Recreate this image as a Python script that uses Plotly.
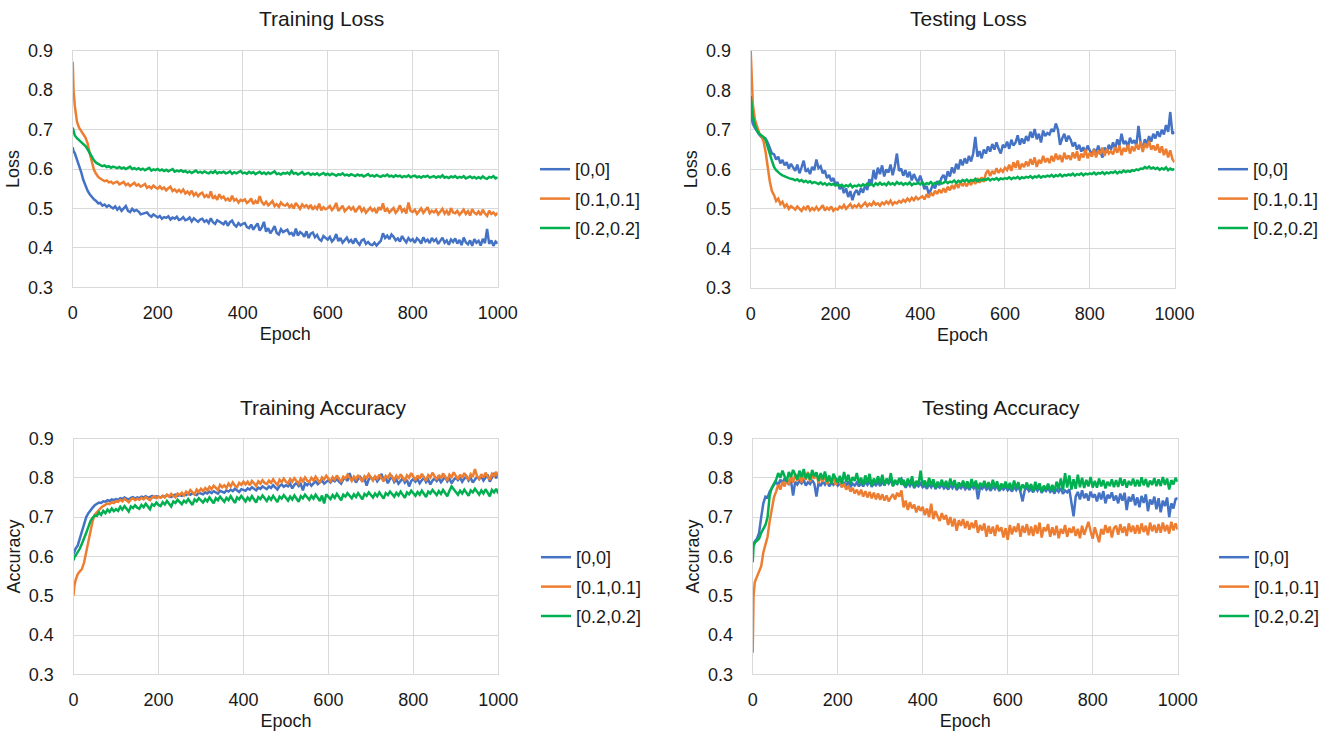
import plotly.graph_objects as go

EPOCHS = [0, 2] + list(range(5, 1001, 5))
SERIES_NAMES = ["[0,0]", "[0.1,0.1]", "[0.2,0.2]"]
COLORS = ["#4472C4", "#ED7D31", "#00B050"]
TITLES = ["Training Loss", "Testing Loss", "Training Accuracy", "Testing Accuracy"]
Y_TITLES = ["Loss", "Loss", "Accuracy", "Accuracy"]
X_TITLE = "Epoch"

# ---- Training loss (epochs 0, 2, then blocks of 5..50, 55..100, ...) ----
train_loss_00 = [0.655, 0.645,
    0.640, 0.625, 0.610, 0.592, 0.572, 0.556, 0.545, 0.536, 0.529, 0.523,
    0.519, 0.513, 0.514, 0.507, 0.510, 0.504, 0.508, 0.503, 0.500, 0.505,
    0.497, 0.503, 0.494, 0.500, 0.506, 0.494, 0.491, 0.499, 0.493, 0.496,
    0.492, 0.485, 0.487, 0.489, 0.490, 0.483, 0.479, 0.485, 0.481, 0.477,
    0.481, 0.474, 0.478, 0.476, 0.480, 0.472, 0.477, 0.474, 0.479, 0.471,
    0.473, 0.478, 0.470, 0.472, 0.477, 0.467, 0.475, 0.470, 0.466, 0.472,
    0.474, 0.466, 0.470, 0.463, 0.475, 0.465, 0.461, 0.470, 0.467, 0.463,
    0.460, 0.468, 0.456, 0.465, 0.469, 0.459, 0.454, 0.463, 0.457, 0.461,
    0.463, 0.453, 0.450, 0.459, 0.446, 0.455, 0.462, 0.444, 0.452, 0.466,
    0.441, 0.450, 0.437, 0.445, 0.455, 0.438, 0.434, 0.447, 0.440, 0.443,
    0.446, 0.435, 0.438, 0.430, 0.449, 0.431, 0.440, 0.436, 0.428, 0.442,
    0.425, 0.436, 0.439, 0.427, 0.433, 0.422, 0.418, 0.430, 0.426, 0.421,
    0.428, 0.416, 0.422, 0.435, 0.417, 0.425, 0.413, 0.421, 0.426, 0.415,
    0.420, 0.411, 0.424, 0.414, 0.408, 0.419, 0.422, 0.410, 0.415, 0.409,
    0.407, 0.413, 0.406, 0.412, 0.418, 0.437, 0.425, 0.431, 0.422, 0.434,
    0.428, 0.419, 0.424, 0.416, 0.430, 0.421, 0.414, 0.425, 0.418, 0.422,
    0.413, 0.424, 0.419, 0.411, 0.427, 0.416, 0.421, 0.412, 0.425, 0.417,
    0.422, 0.410, 0.418, 0.426, 0.413, 0.419, 0.408, 0.421, 0.415, 0.424,
    0.411, 0.420, 0.407, 0.426, 0.414, 0.409, 0.419, 0.405, 0.422, 0.413,
    0.418, 0.406, 0.423, 0.412, 0.448, 0.410, 0.419, 0.405, 0.416, 0.411]
train_loss_01 = [0.872, 0.800,
    0.760, 0.720, 0.705, 0.695, 0.688, 0.680, 0.665, 0.640, 0.615, 0.598,
    0.588, 0.580, 0.576, 0.573, 0.569, 0.571, 0.566, 0.568, 0.563, 0.566,
    0.568, 0.561, 0.564, 0.567, 0.559, 0.563, 0.557, 0.562, 0.565, 0.558,
    0.561, 0.555, 0.558, 0.562, 0.552, 0.556, 0.551, 0.558, 0.553, 0.550,
    0.556, 0.549, 0.553, 0.546, 0.551, 0.555, 0.544, 0.548, 0.542, 0.547,
    0.541, 0.548, 0.538, 0.543, 0.536, 0.545, 0.533, 0.539, 0.531, 0.537,
    0.540, 0.529, 0.534, 0.527, 0.543, 0.525, 0.531, 0.522, 0.536, 0.526,
    0.530, 0.521, 0.525, 0.518, 0.532, 0.520, 0.524, 0.515, 0.522, 0.519,
    0.523, 0.514, 0.518, 0.525, 0.511, 0.519, 0.513, 0.531, 0.516, 0.510,
    0.517, 0.508, 0.513, 0.519, 0.506, 0.511, 0.504, 0.515, 0.509, 0.507,
    0.512, 0.503, 0.509, 0.500, 0.514, 0.506, 0.499, 0.510, 0.504, 0.508,
    0.501, 0.509, 0.497, 0.505, 0.499, 0.512, 0.495, 0.503, 0.498, 0.501,
    0.506, 0.496, 0.502, 0.514, 0.494, 0.500, 0.507, 0.493, 0.499, 0.504,
    0.497, 0.503, 0.491, 0.499, 0.506, 0.493, 0.500, 0.489, 0.497, 0.502,
    0.494, 0.499, 0.488, 0.503, 0.496, 0.513, 0.492, 0.499, 0.490, 0.497,
    0.501, 0.489, 0.496, 0.508, 0.492, 0.498, 0.487, 0.515, 0.494, 0.491,
    0.497, 0.486, 0.493, 0.500, 0.489, 0.495, 0.503, 0.488, 0.494, 0.490,
    0.496, 0.485, 0.491, 0.499, 0.487, 0.494, 0.483, 0.501, 0.490, 0.488,
    0.494, 0.484, 0.490, 0.497, 0.486, 0.493, 0.482, 0.498, 0.489, 0.485,
    0.492, 0.483, 0.497, 0.487, 0.481, 0.494, 0.486, 0.490, 0.483, 0.489]
train_loss_02 = [0.705, 0.695,
    0.685, 0.678, 0.673, 0.668, 0.664, 0.658, 0.650, 0.640, 0.630, 0.622,
    0.616, 0.612, 0.610, 0.607, 0.609, 0.605, 0.607, 0.603, 0.606, 0.604,
    0.602, 0.605, 0.601, 0.604, 0.600, 0.603, 0.606, 0.600, 0.602, 0.599,
    0.602, 0.598, 0.601, 0.597, 0.600, 0.603, 0.596, 0.599, 0.597, 0.600,
    0.596, 0.599, 0.595, 0.598, 0.594, 0.597, 0.600, 0.593, 0.596, 0.594,
    0.597, 0.593, 0.595, 0.591, 0.594, 0.590, 0.593, 0.596, 0.591, 0.593,
    0.590, 0.594, 0.591, 0.589, 0.593, 0.590, 0.595, 0.589, 0.592, 0.590,
    0.593, 0.589, 0.591, 0.594, 0.588, 0.592, 0.589, 0.591, 0.595, 0.589,
    0.591, 0.588, 0.593, 0.589, 0.592, 0.587, 0.590, 0.593, 0.588, 0.591,
    0.587, 0.591, 0.588, 0.590, 0.594, 0.587, 0.589, 0.586, 0.590, 0.588,
    0.591, 0.587, 0.595, 0.588, 0.590, 0.586, 0.589, 0.592, 0.586, 0.588,
    0.590, 0.585, 0.588, 0.586, 0.589, 0.584, 0.587, 0.590, 0.585, 0.588,
    0.584, 0.588, 0.586, 0.583, 0.587, 0.585, 0.589, 0.584, 0.586, 0.583,
    0.587, 0.584, 0.582, 0.586, 0.583, 0.585, 0.581, 0.584, 0.587, 0.582,
    0.584, 0.581, 0.585, 0.582, 0.580, 0.584, 0.582, 0.586, 0.581, 0.583,
    0.580, 0.584, 0.581, 0.583, 0.579, 0.582, 0.580, 0.584, 0.579, 0.582,
    0.583, 0.579, 0.581, 0.578, 0.582, 0.580, 0.583, 0.578, 0.580, 0.582,
    0.578, 0.581, 0.579, 0.584, 0.578, 0.580, 0.577, 0.581, 0.579, 0.582,
    0.577, 0.580, 0.578, 0.582, 0.576, 0.579, 0.581, 0.577, 0.580, 0.576,
    0.579, 0.576, 0.581, 0.577, 0.575, 0.580, 0.578, 0.582, 0.576, 0.579]

# ---- Testing loss ----
test_loss_00 = [0.745, 0.730,
    0.715, 0.705, 0.695, 0.688, 0.682, 0.680, 0.678, 0.668, 0.652, 0.640,
    0.638, 0.625, 0.632, 0.615, 0.624, 0.610, 0.618, 0.602, 0.614, 0.606,
    0.596, 0.612, 0.590, 0.605, 0.622, 0.594, 0.600, 0.588, 0.606, 0.598,
    0.625, 0.603, 0.608, 0.590, 0.597, 0.578, 0.586, 0.570, 0.578, 0.562,
    0.568, 0.550, 0.558, 0.540, 0.552, 0.530, 0.545, 0.522, 0.540, 0.548,
    0.535, 0.552, 0.541, 0.560, 0.548, 0.575, 0.562, 0.598, 0.575, 0.604,
    0.588, 0.610, 0.582, 0.600, 0.592, 0.612, 0.585, 0.608, 0.640, 0.596,
    0.602, 0.584, 0.598, 0.580, 0.594, 0.572, 0.588, 0.576, 0.568, 0.584,
    0.565, 0.550, 0.558, 0.538, 0.548, 0.562, 0.552, 0.570, 0.560, 0.578,
    0.586, 0.572, 0.595, 0.582, 0.605, 0.590, 0.614, 0.600, 0.625, 0.610,
    0.628, 0.615, 0.634, 0.620, 0.640, 0.682, 0.632, 0.646, 0.628, 0.650,
    0.640, 0.658, 0.645, 0.664, 0.650, 0.668, 0.652, 0.640, 0.662, 0.655,
    0.670, 0.652, 0.675, 0.660, 0.668, 0.686, 0.662, 0.678, 0.665, 0.684,
    0.672, 0.695, 0.680, 0.702, 0.676, 0.690, 0.668, 0.698, 0.684, 0.692,
    0.688, 0.702, 0.695, 0.716, 0.700, 0.662, 0.678, 0.690, 0.670, 0.685,
    0.675, 0.658, 0.668, 0.650, 0.662, 0.645, 0.656, 0.642, 0.660, 0.648,
    0.636, 0.652, 0.640, 0.660, 0.646, 0.630, 0.655, 0.642, 0.662, 0.650,
    0.668, 0.652, 0.676, 0.660, 0.690, 0.664, 0.672, 0.655, 0.680, 0.666,
    0.674, 0.660, 0.710, 0.668, 0.652, 0.676, 0.662, 0.684, 0.670, 0.690,
    0.678, 0.696, 0.682, 0.700, 0.688, 0.712, 0.695, 0.745, 0.690, 0.695]
test_loss_01 = [0.900, 0.820,
    0.765, 0.725, 0.705, 0.692, 0.684, 0.672, 0.645, 0.605, 0.570, 0.545,
    0.535, 0.520, 0.526, 0.512, 0.518, 0.505, 0.511, 0.500, 0.507, 0.503,
    0.498, 0.506, 0.500, 0.495, 0.504, 0.499, 0.508, 0.496, 0.502, 0.497,
    0.505, 0.497, 0.502, 0.509, 0.496, 0.503, 0.498, 0.506, 0.495, 0.501,
    0.498, 0.506, 0.502, 0.510, 0.500, 0.507, 0.512, 0.503, 0.509, 0.505,
    0.512, 0.504, 0.510, 0.516, 0.507, 0.513, 0.509, 0.518, 0.511, 0.514,
    0.508, 0.516, 0.512, 0.519, 0.513, 0.521, 0.511, 0.517, 0.514, 0.520,
    0.516, 0.523, 0.518, 0.526, 0.520, 0.528, 0.522, 0.530, 0.524, 0.527,
    0.532, 0.524, 0.537, 0.529, 0.541, 0.533, 0.546, 0.538, 0.549, 0.540,
    0.552, 0.542, 0.556, 0.547, 0.560, 0.550, 0.565, 0.553, 0.569, 0.558,
    0.566, 0.557, 0.570, 0.560, 0.574, 0.563, 0.578, 0.566, 0.580, 0.568,
    0.590, 0.598, 0.583, 0.596, 0.588, 0.603, 0.591, 0.600, 0.594, 0.604,
    0.598, 0.612, 0.596, 0.618, 0.604, 0.622, 0.600, 0.614, 0.606, 0.620,
    0.608, 0.626, 0.612, 0.630, 0.606, 0.624, 0.615, 0.634, 0.618, 0.628,
    0.616, 0.634, 0.620, 0.640, 0.624, 0.636, 0.618, 0.642, 0.626, 0.635,
    0.624, 0.643, 0.628, 0.646, 0.622, 0.640, 0.630, 0.650, 0.628, 0.642,
    0.632, 0.650, 0.630, 0.648, 0.638, 0.655, 0.634, 0.652, 0.640, 0.646,
    0.638, 0.656, 0.642, 0.660, 0.636, 0.654, 0.645, 0.662, 0.640, 0.658,
    0.646, 0.664, 0.650, 0.670, 0.644, 0.666, 0.654, 0.672, 0.650, 0.660,
    0.648, 0.664, 0.642, 0.658, 0.636, 0.652, 0.630, 0.648, 0.626, 0.618]
test_loss_02 = [0.785, 0.760,
    0.735, 0.712, 0.698, 0.690, 0.686, 0.682, 0.675, 0.660, 0.640, 0.622,
    0.606, 0.598, 0.592, 0.588, 0.585, 0.582, 0.580, 0.578, 0.576, 0.575,
    0.572, 0.575, 0.570, 0.573, 0.568, 0.571, 0.567, 0.570, 0.565, 0.568,
    0.566, 0.563, 0.567, 0.562, 0.565, 0.560, 0.564, 0.561, 0.563, 0.559,
    0.562, 0.558, 0.561, 0.556, 0.560, 0.557, 0.562, 0.555, 0.559, 0.557,
    0.561, 0.557, 0.562, 0.559, 0.564, 0.560, 0.563, 0.558, 0.565, 0.561,
    0.566, 0.561, 0.564, 0.560, 0.567, 0.562, 0.565, 0.561, 0.568, 0.563,
    0.566, 0.561, 0.565, 0.562, 0.567, 0.560, 0.564, 0.563, 0.566, 0.562,
    0.567, 0.561, 0.565, 0.563, 0.568, 0.562, 0.566, 0.564, 0.569, 0.564,
    0.566, 0.570, 0.565, 0.569, 0.567, 0.572, 0.566, 0.571, 0.568, 0.573,
    0.570, 0.574, 0.569, 0.573, 0.571, 0.576, 0.570, 0.574, 0.572, 0.575,
    0.573, 0.577, 0.572, 0.576, 0.574, 0.578, 0.573, 0.577, 0.575, 0.578,
    0.576, 0.580, 0.575, 0.579, 0.577, 0.581, 0.576, 0.580, 0.578, 0.581,
    0.579, 0.583, 0.578, 0.582, 0.580, 0.584, 0.579, 0.583, 0.581, 0.584,
    0.582, 0.586, 0.581, 0.585, 0.583, 0.587, 0.582, 0.586, 0.584, 0.587,
    0.585, 0.589, 0.584, 0.588, 0.586, 0.590, 0.585, 0.589, 0.587, 0.590,
    0.588, 0.592, 0.587, 0.591, 0.589, 0.593, 0.588, 0.592, 0.590, 0.593,
    0.591, 0.595, 0.590, 0.594, 0.592, 0.597, 0.593, 0.596, 0.594, 0.598,
    0.596, 0.600, 0.598, 0.602, 0.601, 0.606, 0.603, 0.607, 0.602, 0.605,
    0.601, 0.604, 0.599, 0.603, 0.600, 0.605, 0.598, 0.602, 0.599, 0.601]

# ---- Training accuracy ----
train_acc_00 = [0.605, 0.612,
    0.620, 0.628, 0.645, 0.665, 0.685, 0.700, 0.710, 0.718, 0.724, 0.730,
    0.733, 0.737, 0.736, 0.740, 0.739, 0.743, 0.741, 0.745, 0.743, 0.746,
    0.744, 0.748, 0.746, 0.750, 0.747, 0.745, 0.749, 0.751, 0.747, 0.750,
    0.748, 0.752, 0.750, 0.753, 0.749, 0.751, 0.754, 0.750, 0.753, 0.752,
    0.750, 0.754, 0.752, 0.756, 0.753, 0.751, 0.755, 0.757, 0.754, 0.756,
    0.754, 0.758, 0.756, 0.760, 0.757, 0.761, 0.758, 0.756, 0.762, 0.759,
    0.758, 0.763, 0.760, 0.765, 0.761, 0.766, 0.763, 0.760, 0.767, 0.764,
    0.762, 0.768, 0.765, 0.770, 0.766, 0.772, 0.768, 0.764, 0.771, 0.769,
    0.767, 0.773, 0.770, 0.776, 0.771, 0.768, 0.775, 0.772, 0.778, 0.774,
    0.771, 0.778, 0.774, 0.781, 0.776, 0.770, 0.779, 0.783, 0.777, 0.781,
    0.778, 0.785, 0.773, 0.782, 0.787, 0.779, 0.784, 0.768, 0.786, 0.781,
    0.788, 0.780, 0.786, 0.791, 0.784, 0.789, 0.793, 0.785, 0.790, 0.794,
    0.788, 0.795, 0.791, 0.797, 0.790, 0.785, 0.796, 0.799, 0.792, 0.812,
    0.794, 0.800, 0.788, 0.797, 0.802, 0.793, 0.798, 0.780, 0.796, 0.801,
    0.795, 0.803, 0.791, 0.798, 0.810, 0.794, 0.799, 0.786, 0.797, 0.802,
    0.789, 0.796, 0.785, 0.793, 0.799, 0.788, 0.795, 0.778, 0.792, 0.797,
    0.790, 0.797, 0.786, 0.794, 0.800, 0.789, 0.796, 0.783, 0.793, 0.798,
    0.792, 0.799, 0.789, 0.796, 0.802, 0.791, 0.798, 0.786, 0.795, 0.800,
    0.794, 0.801, 0.790, 0.798, 0.804, 0.793, 0.800, 0.788, 0.797, 0.803,
    0.797, 0.804, 0.793, 0.801, 0.808, 0.790, 0.803, 0.812, 0.799, 0.810]
train_acc_01 = [0.500, 0.525,
    0.540, 0.555, 0.562, 0.568, 0.585, 0.610, 0.640, 0.668, 0.690, 0.706,
    0.712, 0.720, 0.724, 0.728, 0.731, 0.735, 0.733, 0.738, 0.736, 0.741,
    0.739, 0.744, 0.740, 0.746, 0.742, 0.738, 0.745, 0.748, 0.743, 0.747,
    0.744, 0.749, 0.745, 0.751, 0.747, 0.743, 0.750, 0.753, 0.748, 0.752,
    0.749, 0.754, 0.750, 0.757, 0.752, 0.759, 0.754, 0.750, 0.760, 0.756,
    0.762, 0.755, 0.765, 0.759, 0.769, 0.762, 0.758, 0.770, 0.764, 0.772,
    0.766, 0.774, 0.768, 0.777, 0.771, 0.780, 0.773, 0.769, 0.782, 0.776,
    0.781, 0.774, 0.785, 0.778, 0.788, 0.780, 0.776, 0.787, 0.782, 0.790,
    0.783, 0.790, 0.781, 0.792, 0.786, 0.779, 0.791, 0.785, 0.794, 0.787,
    0.784, 0.793, 0.787, 0.796, 0.788, 0.782, 0.795, 0.789, 0.798, 0.790,
    0.786, 0.797, 0.790, 0.799, 0.792, 0.785, 0.798, 0.791, 0.801, 0.793,
    0.789, 0.800, 0.793, 0.803, 0.795, 0.787, 0.801, 0.796, 0.805, 0.797,
    0.791, 0.802, 0.795, 0.806, 0.797, 0.789, 0.803, 0.798, 0.808, 0.799,
    0.792, 0.803, 0.796, 0.807, 0.798, 0.790, 0.804, 0.799, 0.809, 0.800,
    0.793, 0.804, 0.797, 0.808, 0.799, 0.791, 0.805, 0.800, 0.810, 0.801,
    0.794, 0.805, 0.797, 0.809, 0.799, 0.792, 0.806, 0.800, 0.812, 0.801,
    0.794, 0.806, 0.798, 0.810, 0.800, 0.792, 0.807, 0.801, 0.813, 0.802,
    0.795, 0.807, 0.799, 0.811, 0.801, 0.793, 0.808, 0.802, 0.814, 0.803,
    0.796, 0.808, 0.800, 0.812, 0.802, 0.794, 0.809, 0.803, 0.822, 0.804,
    0.797, 0.809, 0.801, 0.813, 0.803, 0.795, 0.810, 0.804, 0.815, 0.802]
train_acc_02 = [0.590, 0.598,
    0.602, 0.610, 0.620, 0.633, 0.645, 0.660, 0.675, 0.690, 0.698, 0.704,
    0.703, 0.712, 0.706, 0.716, 0.710, 0.719, 0.713, 0.722, 0.715, 0.720,
    0.716, 0.726, 0.719, 0.728, 0.721, 0.714, 0.727, 0.723, 0.730, 0.724,
    0.721, 0.731, 0.725, 0.734, 0.727, 0.720, 0.733, 0.729, 0.737, 0.731,
    0.728, 0.738, 0.732, 0.741, 0.734, 0.727, 0.740, 0.736, 0.744, 0.737,
    0.733, 0.742, 0.737, 0.746, 0.739, 0.731, 0.745, 0.740, 0.748, 0.741,
    0.737, 0.746, 0.740, 0.750, 0.742, 0.735, 0.748, 0.743, 0.752, 0.745,
    0.739, 0.749, 0.743, 0.753, 0.744, 0.736, 0.750, 0.745, 0.754, 0.746,
    0.740, 0.750, 0.743, 0.753, 0.745, 0.737, 0.751, 0.746, 0.755, 0.747,
    0.741, 0.751, 0.744, 0.754, 0.746, 0.738, 0.752, 0.747, 0.756, 0.748,
    0.742, 0.752, 0.745, 0.755, 0.747, 0.739, 0.753, 0.748, 0.757, 0.749,
    0.744, 0.754, 0.747, 0.757, 0.749, 0.741, 0.755, 0.735, 0.758, 0.751,
    0.746, 0.756, 0.749, 0.759, 0.751, 0.743, 0.757, 0.752, 0.761, 0.753,
    0.748, 0.758, 0.751, 0.761, 0.753, 0.745, 0.759, 0.754, 0.763, 0.755,
    0.750, 0.760, 0.753, 0.763, 0.755, 0.747, 0.761, 0.756, 0.765, 0.757,
    0.752, 0.762, 0.755, 0.765, 0.757, 0.749, 0.763, 0.758, 0.767, 0.759,
    0.754, 0.764, 0.757, 0.767, 0.759, 0.751, 0.765, 0.760, 0.769, 0.761,
    0.756, 0.766, 0.759, 0.769, 0.761, 0.753, 0.767, 0.778, 0.771, 0.763,
    0.757, 0.767, 0.760, 0.770, 0.762, 0.754, 0.768, 0.763, 0.772, 0.764,
    0.757, 0.768, 0.760, 0.771, 0.762, 0.753, 0.769, 0.763, 0.772, 0.760]

# ---- Testing accuracy ----
test_acc_00 = [0.625, 0.632,
    0.638, 0.645, 0.660, 0.700, 0.735, 0.752, 0.750, 0.765, 0.775, 0.782,
    0.790, 0.781, 0.795, 0.786, 0.798, 0.789, 0.784, 0.793, 0.755, 0.790,
    0.783, 0.792, 0.786, 0.795, 0.780, 0.789, 0.784, 0.794, 0.785, 0.752,
    0.788, 0.779, 0.791, 0.783, 0.793, 0.778, 0.787, 0.782, 0.790, 0.780,
    0.786, 0.777, 0.789, 0.781, 0.791, 0.776, 0.785, 0.780, 0.788, 0.778,
    0.787, 0.778, 0.790, 0.782, 0.792, 0.777, 0.786, 0.781, 0.789, 0.779,
    0.790, 0.781, 0.793, 0.785, 0.795, 0.780, 0.789, 0.784, 0.792, 0.798,
    0.784, 0.775, 0.787, 0.779, 0.789, 0.774, 0.783, 0.778, 0.786, 0.776,
    0.781, 0.772, 0.784, 0.776, 0.786, 0.771, 0.780, 0.775, 0.783, 0.773,
    0.779, 0.770, 0.782, 0.774, 0.784, 0.769, 0.778, 0.773, 0.781, 0.771,
    0.778, 0.769, 0.781, 0.773, 0.783, 0.745, 0.777, 0.772, 0.780, 0.770,
    0.776, 0.767, 0.779, 0.771, 0.781, 0.766, 0.775, 0.770, 0.778, 0.768,
    0.774, 0.765, 0.777, 0.769, 0.779, 0.764, 0.740, 0.768, 0.776, 0.766,
    0.772, 0.763, 0.775, 0.767, 0.777, 0.762, 0.771, 0.766, 0.774, 0.764,
    0.769, 0.760, 0.772, 0.764, 0.774, 0.759, 0.768, 0.763, 0.771, 0.740,
    0.702, 0.752, 0.764, 0.745, 0.768, 0.748, 0.760, 0.742, 0.765, 0.750,
    0.758, 0.740, 0.762, 0.745, 0.766, 0.735, 0.757, 0.748, 0.763, 0.742,
    0.755, 0.735, 0.760, 0.742, 0.762, 0.718, 0.752, 0.740, 0.758, 0.730,
    0.750, 0.725, 0.754, 0.736, 0.758, 0.715, 0.745, 0.732, 0.752, 0.720,
    0.748, 0.712, 0.742, 0.728, 0.750, 0.700, 0.735, 0.722, 0.746, 0.748]
test_acc_01 = [0.355, 0.500,
    0.535, 0.548, 0.560, 0.575, 0.610, 0.630, 0.650, 0.690, 0.720, 0.750,
    0.765, 0.782, 0.770, 0.790, 0.778, 0.798, 0.782, 0.805, 0.788, 0.810,
    0.792, 0.812, 0.788, 0.808, 0.795, 0.815, 0.790, 0.806, 0.798, 0.812,
    0.786, 0.805, 0.790, 0.808, 0.784, 0.800, 0.788, 0.802, 0.782, 0.795,
    0.790, 0.776, 0.785, 0.770, 0.780, 0.765, 0.774, 0.760, 0.770, 0.756,
    0.770, 0.752, 0.766, 0.750, 0.764, 0.748, 0.762, 0.745, 0.760, 0.744,
    0.758, 0.742, 0.755, 0.740, 0.750, 0.758, 0.745, 0.762, 0.752, 0.768,
    0.725, 0.742, 0.718, 0.738, 0.722, 0.732, 0.712, 0.728, 0.716, 0.726,
    0.705, 0.722, 0.700, 0.734, 0.695, 0.715, 0.702, 0.690, 0.710, 0.694,
    0.705, 0.680, 0.700, 0.676, 0.696, 0.665, 0.692, 0.678, 0.695, 0.672,
    0.690, 0.668, 0.686, 0.672, 0.692, 0.660, 0.680, 0.666, 0.684, 0.650,
    0.678, 0.658, 0.676, 0.652, 0.680, 0.664, 0.674, 0.648, 0.672, 0.642,
    0.680, 0.656, 0.676, 0.662, 0.684, 0.650, 0.678, 0.660, 0.682, 0.654,
    0.676, 0.652, 0.680, 0.658, 0.686, 0.648, 0.674, 0.664, 0.682, 0.650,
    0.674, 0.654, 0.678, 0.646, 0.670, 0.658, 0.680, 0.650, 0.672, 0.660,
    0.676, 0.652, 0.670, 0.646, 0.678, 0.655, 0.672, 0.688, 0.664, 0.645,
    0.674, 0.652, 0.636, 0.670, 0.656, 0.680, 0.660, 0.676, 0.648, 0.672,
    0.678, 0.655, 0.682, 0.660, 0.676, 0.652, 0.684, 0.662, 0.678, 0.658,
    0.680, 0.658, 0.684, 0.662, 0.678, 0.654, 0.686, 0.664, 0.680, 0.660,
    0.682, 0.660, 0.686, 0.664, 0.680, 0.658, 0.688, 0.666, 0.684, 0.668]
test_acc_02 = [0.585, 0.625,
    0.635, 0.640, 0.645, 0.660, 0.672, 0.680, 0.700, 0.755, 0.775, 0.787,
    0.795, 0.812, 0.800, 0.818, 0.804, 0.790, 0.815, 0.802, 0.820, 0.806,
    0.796, 0.818, 0.802, 0.822, 0.798, 0.812, 0.795, 0.820, 0.804, 0.814,
    0.792, 0.812, 0.796, 0.816, 0.790, 0.806, 0.785, 0.810, 0.798, 0.788,
    0.805, 0.785, 0.815, 0.790, 0.808, 0.784, 0.802, 0.792, 0.812, 0.786,
    0.800, 0.782, 0.806, 0.788, 0.810, 0.780, 0.798, 0.786, 0.804, 0.784,
    0.808, 0.780, 0.798, 0.785, 0.812, 0.778, 0.795, 0.784, 0.800, 0.782,
    0.795, 0.778, 0.798, 0.783, 0.804, 0.776, 0.792, 0.782, 0.818, 0.780,
    0.793, 0.776, 0.800, 0.781, 0.796, 0.774, 0.790, 0.780, 0.795, 0.778,
    0.792, 0.774, 0.798, 0.779, 0.794, 0.772, 0.788, 0.778, 0.793, 0.776,
    0.791, 0.773, 0.797, 0.778, 0.793, 0.771, 0.787, 0.777, 0.792, 0.775,
    0.789, 0.771, 0.795, 0.776, 0.791, 0.769, 0.785, 0.775, 0.790, 0.773,
    0.787, 0.769, 0.793, 0.774, 0.789, 0.767, 0.783, 0.773, 0.788, 0.771,
    0.784, 0.766, 0.790, 0.771, 0.786, 0.764, 0.780, 0.770, 0.785, 0.768,
    0.782, 0.764, 0.790, 0.772, 0.798, 0.768, 0.812, 0.775, 0.806, 0.770,
    0.796, 0.772, 0.808, 0.776, 0.800, 0.774, 0.795, 0.778, 0.802, 0.775,
    0.792, 0.775, 0.798, 0.778, 0.794, 0.773, 0.790, 0.779, 0.796, 0.776,
    0.794, 0.777, 0.800, 0.780, 0.796, 0.775, 0.792, 0.781, 0.798, 0.778,
    0.795, 0.778, 0.801, 0.781, 0.797, 0.776, 0.793, 0.782, 0.799, 0.779,
    0.796, 0.779, 0.802, 0.782, 0.798, 0.770, 0.794, 0.783, 0.800, 0.790]

PANELS = [
    [train_loss_00, train_loss_01, train_loss_02],
    [test_loss_00, test_loss_01, test_loss_02],
    [train_acc_00, train_acc_01, train_acc_02],
    [test_acc_00, test_acc_01, test_acc_02],
]
for series in PANELS:
    for vals in series:
        assert len(vals) == len(EPOCHS), len(vals)

W, H = 1332, 734
FONT = "Liberation Sans, Arial, sans-serif"
TXT = "#1a1a1a"
GRID = "#d9d9d9"

# plot-area boxes in pixels: (left, right, top, bottom)
BOXES = [(72.7, 497.7, 50.7, 287.3), (750.7, 1174.5, 50.7, 288.0),
         (73.5, 498.3, 438.5, 674.3), (752.7, 1177.7, 438.5, 674.3)]
LEGEND_POS = [(535, 151), (1213, 151), (536, 539), (1214, 539)]
TITLE_POS = [(321, 18), (968, 18), (323, 407), (1001, 407)]

fig = go.Figure()
for p, series in enumerate(PANELS):
    ax = "" if p == 0 else str(p + 1)
    lg = "legend" if p == 0 else "legend" + str(p + 1)
    for s, vals in enumerate(series):
        fig.add_trace(go.Scatter(
            x=EPOCHS, y=vals, mode="lines", name=SERIES_NAMES[s],
            line=dict(color=COLORS[s], width=2.5),
            xaxis="x" + ax, yaxis="y" + ax, legend=lg,
            legendgroup=f"g{p}_{s}",
        ))

layout = dict(
    template="none",
    width=W, height=H, margin=dict(l=0, r=0, t=0, b=0, pad=0),
    paper_bgcolor="white", plot_bgcolor="white",
    font=dict(family=FONT, size=18, color=TXT),
    annotations=[], showlegend=True,
)
for p, (l, r, t, b) in enumerate(BOXES):
    ax = "" if p == 0 else str(p + 1)
    layout["xaxis" + ax] = dict(
        domain=[l / W, r / W], anchor="y" + ax, range=[0, 1000], dtick=200, tick0=0,
        showgrid=True, gridcolor=GRID, gridwidth=1, showline=True, linecolor=GRID,
        linewidth=1, mirror=True, zeroline=False, ticks="", ticklabelstandoff=9,
        automargin=False,
        tickfont=dict(size=18, color=TXT),
        title=dict(text=X_TITLE, font=dict(size=18, color=TXT), standoff=5),
    )
    layout["yaxis" + ax] = dict(
        domain=[1 - b / H, 1 - t / H], anchor="x" + ax, range=[0.3, 0.9], dtick=0.1, tick0=0.3,
        tickformat=".1f",
        showgrid=True, gridcolor=GRID, gridwidth=1, showline=True, linecolor=GRID,
        linewidth=1, mirror=True, zeroline=False, ticks="", ticklabelstandoff=15,
        automargin=False,
        tickfont=dict(size=18, color=TXT),
        title=dict(text=Y_TITLES[p], font=dict(size=18, color=TXT), standoff=3),
    )
    lx, ly = LEGEND_POS[p]
    key = "legend" if p == 0 else "legend" + str(p + 1)
    layout[key] = dict(
        x=lx / W, y=1 - ly / H, xanchor="left", yanchor="top",
        font=dict(size=18, color=TXT), bgcolor="rgba(0,0,0,0)",
        tracegroupgap=3, itemwidth=30, borderwidth=0,
    )
    tx, ty = TITLE_POS[p]
    layout["annotations"].append(dict(
        text=TITLES[p], x=tx / W, y=1 - ty / H, xref="paper", yref="paper",
        xanchor="center", yanchor="middle", showarrow=False,
        font=dict(size=21, color=TXT, family=FONT),
    ))

fig.update_layout(**layout)
fig.write_html("out.html")
